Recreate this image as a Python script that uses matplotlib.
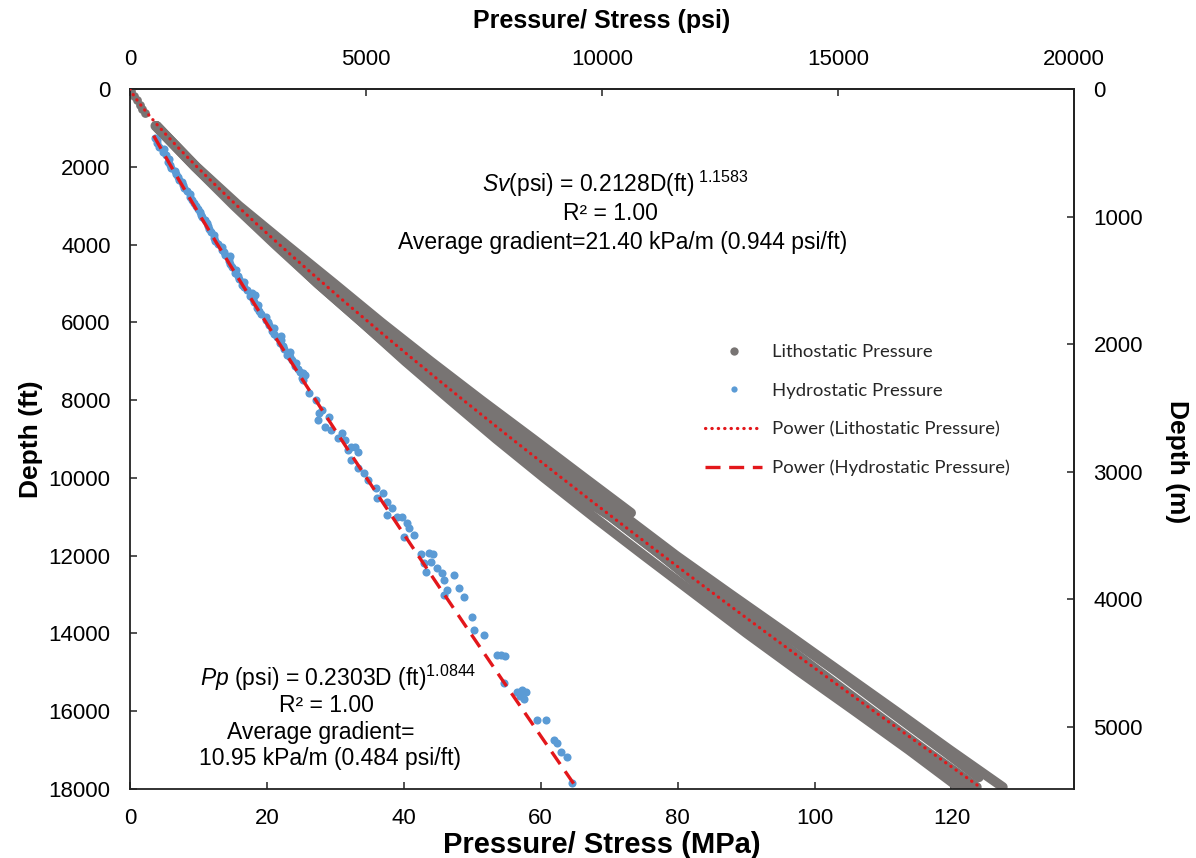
import numpy as np
import matplotlib
matplotlib.use("Agg")
import matplotlib.pyplot as plt
from matplotlib.lines import Line2D

plt.rcParams.update({
    "font.family": ["Liberation Sans", "DejaVu Sans"],
    "mathtext.fontset": "custom",
    "mathtext.rm": "Liberation Sans",
    "mathtext.it": "Liberation Sans:italic",
    "mathtext.bf": "Liberation Sans:bold",
})

W, H = 1196, 858
PSI_TO_MPA = 0.00689476
FT_TO_M = 0.3048

# lithostatic (Sv) log tracks, depth in ft, stress in MPa
lith_depth = [950, 2000, 3000, 4000, 5000, 6000, 7000, 8000, 9000, 10000,
              11000, 12000, 13000, 14000, 15000, 16000, 17000, 17950]
lith_c = [3.7, 9.5, 15.5, 21.4, 27.4, 33.9, 40.2, 46.8, 53.5, 60.5,
          67.7, 75.1, 82.6, 90.1, 97.9, 105.9, 113.8, 121.0]
lith_d = [3.8, 9.5, 15.2, 21.2, 27.4, 33.9, 40.4, 47.2, 54.1, 61.4,
          70.3, 77.7, 84.6, 91.5, 99.2, 106.9, 114.6, 122.3]
lith_e = [3.9, 9.6, 15.5, 21.7, 28.0, 34.7, 41.4, 48.5, 55.6, 62.9,
          70.3, 77.7, 85.0, 93.3, 100.8, 108.4, 116.1, 123.7]
lith_b = [3.9, 9.6, 15.7, 22.2, 28.9, 35.7, 42.7, 50.0, 57.4, 64.6,
          72.3, 79.8, 87.8, 95.9, 103.9, 111.9, 119.8, 127.5]
# shallow branch that stops near 10900 ft
lith_a_depth = [950, 2000, 3000, 4000, 5000, 6000, 7000, 8000, 9000, 10000, 10900]
lith_a = [3.9, 9.7, 15.9, 22.8, 29.8, 36.7, 43.9, 51.3, 58.9, 66.4, 73.2]
# deep track starting at 11000 ft
lith_g_depth = [11000, 12000, 13000, 14000, 15000, 16000, 17000, 17700]
lith_g = [71.4, 79.0, 86.9, 95.4, 103.4, 111.0, 118.7, 124.0]
# few near-surface points
lith_top_depth = [50, 170, 290, 400, 510, 620]
lith_top = [0.2, 0.6, 1.0, 1.4, 1.8, 2.2]

# hydrostatic (Pp) points
hydro_depth = [1250, 1400, 1550, 1700, 1800, 1950, 2100, 2250, 2400, 2550,
               2700, 2850, 3000, 3150, 3300, 3450, 3600, 3750, 3900, 4050,
               4200, 4350, 4500, 4650, 4800, 4950, 5100, 5250, 5400, 5550,
               5700, 5850, 6000, 6150, 6300, 6450, 6600, 6750, 6900, 7050,
               7200, 7350,
               1320, 1480, 1630, 1880, 2030, 2180, 2330, 2480, 2630, 2780,
               2930, 3080, 3230, 3380, 3530, 3680, 3830, 3980, 4130, 4280,
               4430, 4580, 4730, 4880, 5030, 5180, 5330, 5480, 5630, 5780,
               5930, 6080, 6230, 6380, 6530, 6680, 6830, 6980, 7130, 7280,
               7430, 4300, 5300, 6350, 7300,
               7483, 7826, 8000, 8257, 8514, 8428, 8771, 8857, 9028, 9200,
               9328, 9543, 9757, 9886, 8342, 8685, 8985, 9285, 9200, 10057,
               10271, 10400, 10528, 10614, 10785, 10957, 11000, 11000, 11171, 11300,
               11514, 11471, 11960, 11925, 11960, 12200, 12157, 12414, 12328, 12457,
               12628, 12500, 12885, 12842, 13057, 13014, 13571, 13914, 14042, 14557,
               14557, 14582, 15285, 15499, 15611, 15697, 15499, 15456, 16227, 16227,
               16741, 16827, 17041, 17170, 17856]
hydro_mpa = [3.7, 4.0, 4.9, 5.2, 5.7, 5.9, 6.6, 7.0, 7.6, 7.9,
             8.7, 9.0, 9.6, 10.2, 10.5, 11.3, 11.6, 12.2, 12.4, 13.4,
             13.7, 14.5, 14.6, 15.5, 15.8, 16.6, 16.7, 17.8, 17.9, 18.7,
             18.9, 19.9, 20.1, 21.1, 21.1, 22.1, 22.3, 23.4, 23.3, 24.2,
             24.5, 25.5,
             3.9, 4.3, 4.8, 5.5, 6.0, 6.7, 7.2, 7.7, 8.3, 8.8,
             9.3, 9.9, 10.3, 10.9, 11.4, 11.9, 12.3, 12.9, 13.4, 13.9,
             14.4, 14.9, 15.4, 15.9, 16.4, 17.1, 17.5, 18.1, 18.6, 19.1,
             19.8, 20.3, 20.8, 21.5, 21.9, 22.5, 23.0, 23.6, 24.1, 24.8,
             25.1, 14.6, 18.2, 22.0, 25.3,
             25.2, 26.1, 27.1, 28.1, 27.5, 29.0, 29.4, 30.9, 31.4, 32.3,
             33.3, 32.3, 33.3, 34.2, 27.6, 28.5, 30.4, 31.9, 32.8, 34.7,
             35.9, 36.9, 36.1, 37.6, 38.3, 37.6, 39.0, 39.8, 40.5, 40.7,
             40.0, 41.5, 42.5, 43.7, 44.3, 42.9, 43.9, 43.2, 44.9, 45.6,
             45.9, 47.3, 46.3, 48.0, 48.8, 45.9, 50.0, 50.3, 51.7, 53.6,
             54.2, 54.8, 54.7, 56.5, 57.0, 57.6, 57.9, 57.3, 59.4, 60.7,
             61.9, 62.4, 62.9, 63.9, 64.5]

# power trendlines shown on the chart: P(psi) = a * D(ft)^b
sv_a, sv_b = 0.2128, 1.1583
pp_a, pp_b = 0.2303, 1.0844

gray = "#787473"
blue = "#5B9BD5"
red = "#E3171B"


def px(x, y):
    return x / W, 1 - y / H


fig = plt.figure(figsize=(W / 100, H / 100), dpi=100)
ax = fig.add_axes([130 / W, 1 - 789 / H, (1074 - 130) / W, (789 - 89) / H])

track_kw = dict(color=gray, lw=7, solid_capstyle="round", solid_joinstyle="round", zorder=2)
for vals in (lith_c, lith_d, lith_e, lith_b):
    ax.plot(vals, lith_depth, **track_kw)
ax.plot(lith_a, lith_a_depth, **track_kw)
ax.plot(lith_g, lith_g_depth, **track_kw)
ax.scatter(lith_top, lith_top_depth, s=40, color=gray, lw=0, zorder=2)

ax.scatter(hydro_mpa, hydro_depth, s=34, color=blue, lw=0, zorder=3)

d_sv = np.linspace(0, 17950, 400)
ax.plot(sv_a * d_sv ** sv_b * PSI_TO_MPA, d_sv, color=red, lw=2.3,
        linestyle=(0, (0.1, 1.9)), dash_capstyle="round", zorder=4)
d_pp = np.linspace(1200, 17950, 400)
ax.plot(pp_a * d_pp ** pp_b * PSI_TO_MPA, d_pp, color=red, lw=2.4,
        linestyle=(0, (4.5, 2.6)), zorder=4)

ax.set_xlim(0, 20000 * PSI_TO_MPA)
ax.set_ylim(18000, 0)
ax.set_xticks([0, 20, 40, 60, 80, 100, 120])
ax.set_yticks(range(0, 18001, 2000))

top = ax.secondary_xaxis("top", functions=(lambda x: x / PSI_TO_MPA, lambda x: x * PSI_TO_MPA))
top.set_xticks([0, 5000, 10000, 15000, 20000])
right = ax.secondary_yaxis("right", functions=(lambda y: y * FT_TO_M, lambda y: y / FT_TO_M))
right.set_yticks([0, 1000, 2000, 3000, 4000, 5000])

for a in (ax, top, right):
    a.tick_params(direction="in", length=5, width=1.1, labelsize=16, pad=14, color="#222222")
    for sp in a.spines.values():
        sp.set_linewidth(1.3)
        sp.set_color("#222222")

ax.set_xlabel("Pressure/ Stress (MPa)", fontsize=21, fontweight="bold", labelpad=1)
ax.set_ylabel("Depth (ft)", fontsize=19, fontweight="bold", labelpad=4)
top.set_xlabel("Pressure/ Stress (psi)", fontsize=18, fontweight="bold", labelpad=15)
fig.text(*px(1177, 462), "Depth (m)", fontsize=19, fontweight="bold", rotation=270,
         ha="center", va="center")

fs = 16.5
fig.text(*px(615, 184), r"$\mathit{Sv}$(psi) = 0.2128D(ft)$^{\ 1.1583}$", fontsize=fs, ha="center", va="center")
fig.text(*px(610, 214), "R² = 1.00", fontsize=fs, ha="center", va="center")
fig.text(*px(623, 243), "Average gradient=21.40 kPa/m (0.944 psi/ft)", fontsize=fs, ha="center", va="center")

fig.text(*px(338, 678), r"$\mathit{Pp}$ (psi) = 0.2303D (ft)$^{1.0844}$", fontsize=fs, ha="center", va="center")
fig.text(*px(326, 705), "R² = 1.00", fontsize=fs, ha="center", va="center")
fig.text(*px(321, 732), "Average gradient=", fontsize=fs, ha="center", va="center")
fig.text(*px(330, 759), "10.95 kPa/m (0.484 psi/ft)", fontsize=fs, ha="center", va="center")

handles = [
    Line2D([], [], ls="none", marker="o", ms=6, color=gray, mew=0),
    Line2D([], [], ls="none", marker="o", ms=4.5, color=blue, mew=0),
    Line2D([], [], color=red, lw=2.3, linestyle=(0, (0.1, 1.9)), dash_capstyle="round"),
    Line2D([], [], color=red, lw=2.4, linestyle=(0, (4.5, 2.6))),
]
labels = ["Lithostatic Pressure", "Hydrostatic Pressure",
          "Power (Lithostatic Pressure)", "Power (Hydrostatic Pressure)"]
leg = ax.legend(handles, labels, loc="upper left", bbox_to_anchor=px(705, 344),
                bbox_transform=fig.transFigure, frameon=False, borderpad=0, borderaxespad=0,
                handlelength=3.1, handletextpad=0.5, labelspacing=1.22,
                prop={"family": "Lato", "size": 13.3})
for t in leg.get_texts():
    t.set_color("#262626")

fig.savefig("out.png", dpi=100)
